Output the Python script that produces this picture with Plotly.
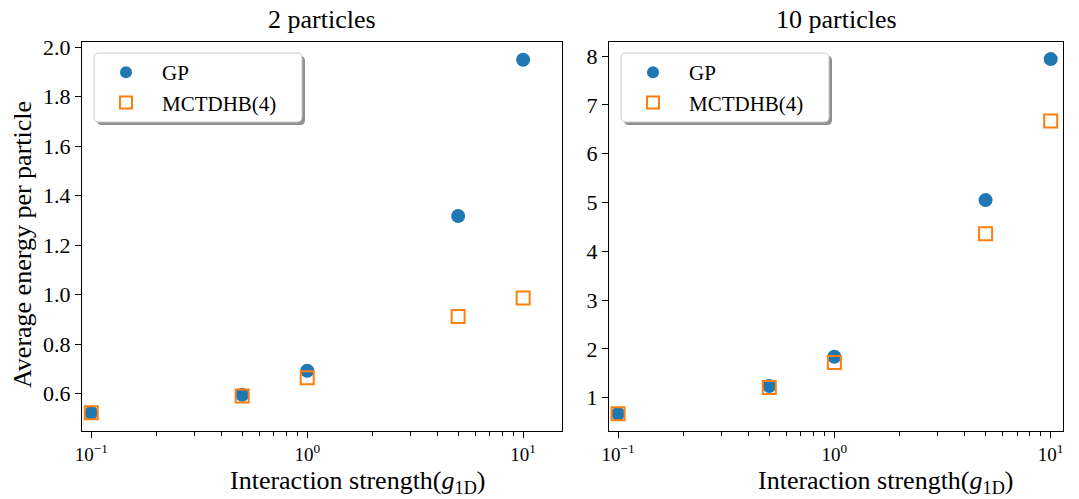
import plotly.graph_objects as go

# ---- data ----
g_vals = [0.1, 0.5, 1.0, 5.0, 10.0]
gp_2 = [0.522, 0.595, 0.692, 1.318, 1.950]
mc_2 = [0.522, 0.590, 0.664, 0.912, 0.986]
gp_10 = [0.67, 1.24, 1.84, 5.05, 7.94]
mc_10 = [0.67, 1.21, 1.72, 4.36, 6.67]

panel_titles = ["2 particles", "10 particles"]
x_label = "Interaction strength(<i>g</i><sub>1D</sub>)"
y_label = "Average energy per particle"
x_tick_vals = [0.1, 1, 10]
x_tick_text = ["10<sup>−1</sup>", "10<sup>0</sup>", "10<sup>1</sup>"]
minor_vals = [0.2, 0.3, 0.4, 0.5, 0.6, 0.7, 0.8, 0.9, 2, 3, 4, 5, 6, 7, 8, 9]
y1_ticks = [0.6, 0.8, 1.0, 1.2, 1.4, 1.6, 1.8, 2.0]
y2_ticks = [1, 2, 3, 4, 5, 6, 7, 8]

BLUE = "#1f77b4"
ORANGE = "#ff7f0e"
FONT = "Liberation Serif"

W, H = 1079, 499
ml, mr, mt, mb = 82, 16, 42, 68
plot_w = W - ml - mr
ph = H - mt - mb
left_w = 480
right_start = 609 - ml

fig = go.Figure()

def add_panel(ydata_gp, ydata_mc, xa, ya, legend):
    fig.add_trace(go.Scatter(x=g_vals, y=ydata_gp, mode="markers", name="GP",
                             marker=dict(symbol="circle", size=14, color=BLUE),
                             xaxis=xa, yaxis=ya, legend=legend))
    fig.add_trace(go.Scatter(x=g_vals, y=ydata_mc, mode="markers", name="MCTDHB(4)",
                             marker=dict(symbol="square-open", size=13, color=ORANGE,
                                         line=dict(width=2, color=ORANGE)),
                             xaxis=xa, yaxis=ya, legend=legend))

add_panel(gp_2, mc_2, "x", "y", "legend")
add_panel(gp_10, mc_10, "x2", "y2", "legend2")

axis_common = dict(showline=True, linecolor="black", linewidth=1.3, mirror=True,
                   ticks="outside", ticklen=6, tickwidth=1.2, tickcolor="black",
                   showgrid=False, zeroline=False,
                   tickfont=dict(family=FONT, size=22, color="black"))

xaxis_common = dict(axis_common, type="log", tickvals=x_tick_vals, ticktext=x_tick_text,
                    tickfont=dict(family=FONT, size=19, color="black"),
                    minor=dict(tickvals=minor_vals, ticks="outside", ticklen=3.5,
                               tickwidth=1, tickcolor="black", showgrid=False))

fig.update_layout(
    width=W, height=H,
    margin=dict(l=ml, r=mr, t=mt, b=mb),
    paper_bgcolor="white", plot_bgcolor="white",
    showlegend=True,
    xaxis=dict(xaxis_common, domain=[0, left_w / plot_w], range=[-1.043, 1.18], anchor="y"),
    xaxis2=dict(xaxis_common, domain=[right_start / plot_w, 1], range=[-1.042, 1.057], anchor="y2"),
    yaxis=dict(axis_common, tickvals=y1_ticks, ticktext=[f"{v:.1f}" for v in y1_ticks],
               range=[0.4485, 2.0215], anchor="x"),
    yaxis2=dict(axis_common, anchor="x2", tickvals=y2_ticks, range=[0.3175, 8.29]),
)

legend_common = dict(bgcolor="rgba(0,0,0,0)", borderwidth=0,
                     font=dict(family=FONT, size=21, color="black"),
                     xanchor="left", yanchor="top", itemsizing="constant",
                     itemwidth=62)
fig.update_layout(
    legend=dict(legend_common, x=(90 - ml) / plot_w, y=1 - (52 - mt) / ph),
    legend2=dict(legend_common, x=(617 - ml) / plot_w, y=1 - (52 - mt) / ph),
)

# legend frames with shadow (rounded)
def rounded_path(x0, y0, x1, y1, rx, ry):
    return (f"M {x0+rx},{y0} L {x1-rx},{y0} Q {x1},{y0} {x1},{y0+ry} "
            f"L {x1},{y1-ry} Q {x1},{y1} {x1-rx},{y1} L {x0+rx},{y1} "
            f"Q {x0},{y1} {x0},{y1-ry} L {x0},{y0+ry} Q {x0},{y0} {x0+rx},{y0} Z")

for (px0, px1, xr, yr) in [(94, 302, "x domain", "y domain"), (621, 829, "x2 domain", "y2 domain")]:
    ax_left = ml if xr == "x domain" else 609
    ax_w = left_w if xr == "x domain" else (W - mr - 609)
    fx = lambda p: (p - ax_left) / ax_w
    fy = lambda p: 1 - (p - mt) / ph
    rx = 5 / ax_w
    ry = 5 / ph
    fig.add_shape(type="path", xref=xr, yref=yr, layer="below",
                  path=rounded_path(fx(px0 + 3), fy(122 + 3), fx(px1 + 3), fy(53 + 3), rx, ry),
                  fillcolor="#8f8f8f", line=dict(width=0))
    fig.add_shape(type="path", xref=xr, yref=yr, layer="below",
                  path=rounded_path(fx(px0), fy(122), fx(px1), fy(53), rx, ry),
                  fillcolor="white", line=dict(width=1, color="#cccccc"))

# panel titles
for t, xr in zip(panel_titles, ["x domain", "x2 domain"]):
    fig.add_annotation(text=t, xref=xr, yref="paper", x=0.5, y=1, yshift=6,
                       xanchor="center", yanchor="bottom", showarrow=False,
                       font=dict(family=FONT, size=26, color="black"))

# x axis labels (positioned as in reference)
for cx in [357, 885]:
    fig.add_annotation(text=x_label, xref="paper", yref="paper",
                       x=(cx - ml) / plot_w, y=-(482 - mt - ph) / ph,
                       xanchor="center", yanchor="middle", showarrow=False,
                       font=dict(family=FONT, size=26, color="black"))

# y axis label
fig.add_annotation(text=y_label, xref="paper", yref="paper",
                   x=-(ml - 22) / plot_w, y=1 - (245 - mt) / ph, textangle=-90,
                   xanchor="center", yanchor="middle", showarrow=False,
                   font=dict(family=FONT, size=26, color="black"))

fig.write_html("out.html")
